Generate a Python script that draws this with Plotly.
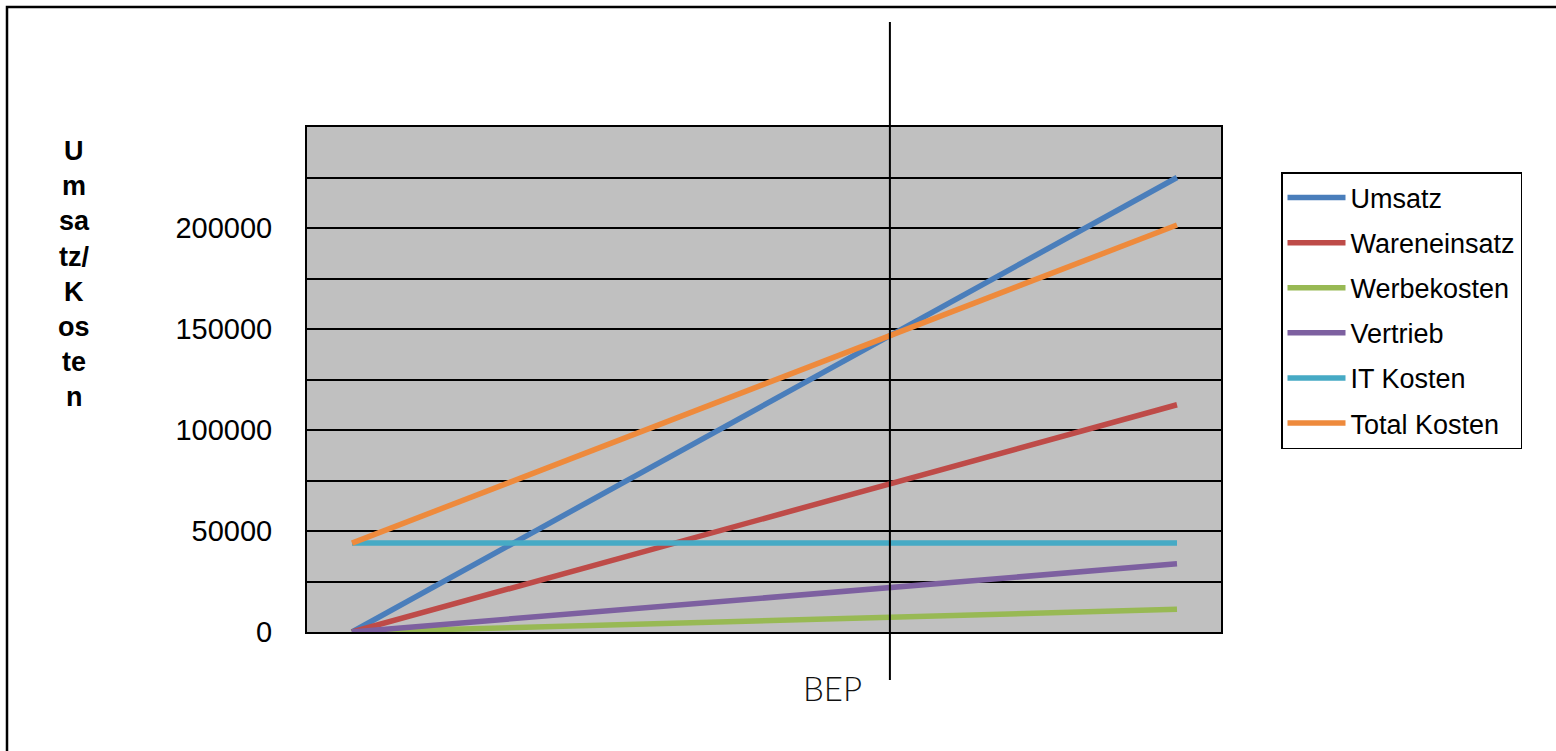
import plotly.graph_objects as go

# Absatzmenge (Stück): Start, Break-even-Punkt, Ende
menge = [0, 1956, 3000]

umsatz = [0, 146667, 225000]
wareneinsatz = [0, 73333, 112500]
werbekosten = [0, 7333, 11250]
vertrieb = [0, 22000, 33750]
it_kosten = [44000, 44000, 44000]
total_kosten = [44000, 146667, 201500]

serien = [
    ("Umsatz", umsatz, "#4A7EBB"),
    ("Wareneinsatz", wareneinsatz, "#BE4B48"),
    ("Werbekosten", werbekosten, "#98B954"),
    ("Vertrieb", vertrieb, "#7D60A0"),
    ("IT Kosten", it_kosten, "#46AAC5"),
    ("Total Kosten", total_kosten, "#EE8A3C"),
]

y_ticks = [0, 50000, 100000, 150000, 200000]
y_ticktext = ["0", "50000", "100000", "150000", "200000"]
titel_zeilen = ["U", "m", "sa", "tz/", "K", "os", "te", "n"]

bep_menge = menge[1]

fig = go.Figure()
for name, werte, farbe in serien:
    fig.add_trace(go.Scatter(
        x=menge, y=werte, name=name, mode="lines",
        legendgroup=name,
        line=dict(color=farbe, width=5.5),
    ))

W, H = 1556, 751
ml, mr, mt, mb = 307, 335, 127, 119
pw, ph = W - ml - mr, H - mt - mb


def px_x(px):
    return (px - ml) / pw


def px_y(py):
    return (H - mb - py) / ph


shapes = [
    # Rahmen um das gesamte Diagramm
    dict(type="rect", xref="paper", yref="paper",
         x0=px_x(7), x1=px_x(1600), y0=px_y(800), y1=px_y(7),
         line=dict(color="black", width=2.5), fillcolor="rgba(0,0,0,0)", layer="above"),
    # Senkrechte Linie am Break-even-Punkt
    dict(type="line", xref="x", yref="paper",
         x0=bep_menge, x1=bep_menge, y0=px_y(680), y1=px_y(22),
         line=dict(color="black", width=2), layer="above"),
]

annotations = [
    dict(text="BEP", xref="x", yref="paper", x=bep_menge, y=px_y(688),
         xshift=-57, showarrow=False, xanchor="center", yanchor="middle",
         font=dict(family="Lato", size=33, color="#111111", weight=300)),
]
for i, zeile in enumerate(titel_zeilen):
    annotations.append(dict(
        text=f"<b>{zeile}</b>", xref="paper", yref="paper",
        x=px_x(74), y=px_y(151 + i * 35.2), showarrow=False,
        xanchor="center", yanchor="middle",
        font=dict(family="Liberation Sans, Arial", size=27, color="black"),
    ))

fig.update_layout(
    width=W, height=H,
    margin=dict(l=ml, r=mr, t=mt, b=mb, pad=0),
    paper_bgcolor="white",
    plot_bgcolor="#C0C0C0",
    font=dict(family="Liberation Sans, Arial", color="black"),
    showlegend=True,
    legend=dict(
        x=px_x(1281), y=px_y(172), xanchor="left", yanchor="top",
        bgcolor="white", bordercolor="black", borderwidth=1.5,
        font=dict(size=27, color="black"),
        tracegroupgap=7, itemwidth=58,
    ),
    xaxis=dict(
        range=[-163.6, 3160], showticklabels=False, ticks="",
        showgrid=False, zeroline=False,
        showline=True, mirror=True, linecolor="black", linewidth=2,
    ),
    yaxis=dict(
        range=[0, 250000], tickmode="array", tickvals=y_ticks, ticktext=y_ticktext,
        tickfont=dict(size=29, color="black"), ticks="", ticklabelstandoff=27,
        showgrid=True, gridcolor="black", gridwidth=1.5, zeroline=False,
        minor=dict(tickmode="linear", tick0=0, dtick=25000, showgrid=True,
                   gridcolor="black", gridwidth=1.5, ticks=""),
        showline=True, mirror=True, linecolor="black", linewidth=2,
    ),
    shapes=shapes,
    annotations=annotations,
)

fig.write_html("out.html")
